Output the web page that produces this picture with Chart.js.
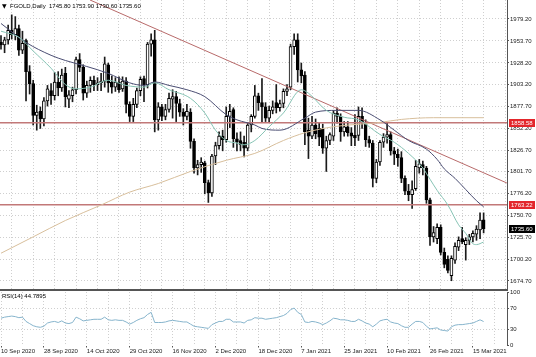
<!DOCTYPE html>
<html>
<head>
<meta charset="utf-8">
<title>FGOLD Daily</title>
<script src="https://cdn.jsdelivr.net/npm/chart.js@4/dist/chart.umd.min.js"></script>
<style>
  html, body { margin:0; padding:0; background:#fff; }
  #wrap { position:relative; width:536px; height:357px; overflow:hidden; background:#fff; }
  canvas { position:absolute; left:0; }
  #main { top:0; }
  #rsi { top:290px; }
</style>
</head>
<body>
<div id="wrap">
  <canvas id="main" width="536" height="291"></canvas>
  <canvas id="rsi" width="536" height="67"></canvas>
</div>
<script>
// ---------------- DATA ----------------
const symbol = 'FGOLD,Daily';
const dateLabels = ['10 Sep 2020','28 Sep 2020','14 Oct 2020','29 Oct 2020','16 Nov 2020','2 Dec 2020',
                    '18 Dec 2020','7 Jan 2021','25 Jan 2021','10 Feb 2021','26 Feb 2021','15 Mar 2021'];
const dateLabelBars = [0,12,24,36,48,60,72,84,96,108,120,132];
const priceTicks = [1979.20,1953.70,1928.20,1903.20,1877.70,1852.20,1826.70,1801.70,1776.20,1750.70,1725.70,1700.20,1674.70];
const rsiTicks = [100,70,30,0];
const rsiLevels = [70,30];

const open = [1952,1949,1955,1966,1961,1968,1943,1954,1918,1904,1867,1872,1863,1884,1896,1890,1906,1899,1916,1886,
  1890,1897,1932,1923,1893,1902,1908,1903,1905,1907,1926,1906,1900,1906,1898,1907,1880,1866,1880,1896,
  1910,1903,1950,1955,1862,1877,1866,1874,1886,1889,1881,1871,1866,1871,1837,1806,1810,1812,1789,1777,
  1820,1832,1843,1839,1866,1874,1840,1838,1836,1829,1856,1866,1890,1882,1877,1864,1873,1882,1876,1881,
  1895,1900,1947,1955,1920,1914,1850,1843,1856,1852,1851,1829,1838,1843,1870,1866,1848,1854,1847,1844,
  1844,1866,1859,1839,1835,1794,1813,1836,1842,1845,1826,1822,1818,1794,1779,1775,1782,1806,1810,1806,
  1769,1726,1724,1737,1708,1700,1681,1699,1714,1724,1717,1722,1726,1729,1734,1745.80];
const high = [1960,1958,1972,1984,1982,1972,1965,1956,1925,1908,1879,1877,1888,1902,1904,1917,1918,1921,1923,1896,
  1900,1935,1939,1926,1907,1912,1913,1911,1916,1935,1928,1913,1911,1912,1912,1911,1883,1887,1899,1912,
  1913,1952,1962,1966,1882,1880,1880,1893,1897,1895,1886,1875,1880,1875,1840,1815,1818,1814,1792,1822,
  1836,1848,1850,1877,1880,1876,1847,1848,1843,1858,1868,1902,1893,1910,1882,1878,1884,1903,1885,1898,
  1903,1950,1962,1962,1928,1918,1864,1866,1863,1858,1857,1843,1847,1873,1876,1869,1860,1860,1853,1868,
  1877,1876,1862,1843,1838,1816,1838,1846,1858,1848,1830,1828,1825,1797,1787,1791,1815,1816,1814,1808,
  1771,1738,1741,1740,1713,1704,1704,1719,1726,1737,1725,1729,1733,1739,1754,1753.90];
const low = [1944,1940,1950,1956,1955,1937,1939,1884,1892,1856,1850,1852,1855,1878,1880,1885,1890,1895,1877,1876,
  1883,1892,1918,1885,1888,1894,1896,1896,1896,1900,1894,1893,1895,1894,1895,1870,1860,1860,1876,1890,
  1883,1899,1936,1848,1850,1861,1862,1871,1864,1860,1866,1856,1862,1829,1800,1798,1801,1776,1766,1773,
  1810,1828,1826,1836,1853,1830,1826,1826,1819,1826,1848,1864,1873,1860,1860,1860,1869,1870,1872,1876,
  1890,1897,1938,1906,1905,1833,1817,1840,1840,1832,1823,1802,1833,1838,1858,1837,1843,1843,1832,1832,
  1838,1852,1831,1830,1784,1789,1809,1830,1835,1821,1810,1808,1789,1775,1768,1759,1780,1800,1798,1765,
  1716,1720,1718,1705,1690,1684,1675,1695,1710,1718,1699,1717,1720,1722,1724,1730.60];
const close = [1949,1955,1966,1961,1968,1943,1951,1918,1904,1867,1871,1863,1884,1898,1890,1906,1899,1914,1889,1891,
  1897,1932,1923,1893,1902,1908,1903,1905,1907,1927,1905,1900,1906,1897,1907,1880,1866,1880,1896,1909,
  1903,1950,1955,1862,1877,1866,1874,1887,1889,1881,1871,1866,1872,1837,1806,1810,1813,1789,1777,1820,
  1832,1843,1839,1866,1872,1840,1836,1833,1829,1856,1866,1890,1882,1877,1864,1873,1877,1876,1881,1895,
  1898,1947,1955,1920,1913,1848,1843,1856,1846,1842,1829,1838,1845,1870,1866,1848,1854,1847,1843,1841,
  1866,1858,1839,1835,1794,1813,1836,1842,1845,1826,1822,1818,1794,1779,1775,1781,1808,1811,1806,1769,
  1726,1731,1737,1708,1694,1687,1701,1715,1722,1720,1722,1726,1730,1735,1745.5,1735.60];

// moving averages at sample bars
const maFastBars = [0,5,9,14,18,21,25,30,35,40,43,47,53,57,60,63,66,68,71,75,79,84,86,91,96,100,106,110,114,118,120,122,125,128,130,132,133,135];
const maFastVals = [1965,1958,1942,1922,1903,1898,1900,1908,1902,1900,1905,1897,1887,1870,1850,1838,1835,1833,1838,1854,1870,1897,1893,1873,1865,1862,1845,1836,1823,1806,1793,1780,1763,1740,1730,1718,1717,1720];
const maMidBars = [0,7,14,18,24,30,36,40,43,47,52,57,63,66,71,73,78,85,88,94,100,106,110,114,119,122,124,127,130,133,135];
const maMidVals = [1974,1952,1937,1931,1924,1916,1905,1902,1906,1902,1897,1889,1868,1862,1856,1852,1850,1864,1871,1873,1873,1862,1850,1838,1828,1816,1805,1794,1781,1768,1761];
const maSlowBars = [0,9,18,28,36,44,53,63,71,79,85,93,106,112,121,135];
const maSlowVals = [1707,1726,1745,1763,1778,1788,1802,1815,1823,1838,1847,1854,1859,1862.5,1864.5,1864.5];

const levels = [1858.58, 1763.22];
const trendBars = [24.9, 141.5];
const trendVals = [2001.3, 1788.6];

const rsi = [51,53,54,55,54,52,53,45,41,37,35,34,36,42,44,45,43,46,42,41,
  43,53,50,46,47,48,49,49,49,53,48,47,48,47,47,44,40,43,47,50,
  52,58,62,43,43,43,44,46,47,46,45,44,44,40,36,35,34,33,32,39,
  42,45,45,49,49,44,44,44,42,47,48,52,51,51,49,50,51,52,54,56,
  60,67,70,62,58,44,43,45,44,42,39,42,46,51,50,48,48,47,45,45,
  49,46,42,40,35,40,46,48,49,44,42,41,37,34,34,40,45,45,43,36,
  31,32,33,29,28,27,35,38,39,39,40,41,42,45,48,44.7895];

// ---------------- LAYOUT ----------------
const X_MIN = -0.28, X_MAX = 141.54;
const Y_MIN = 1664.24, Y_MAX = 2001.28;
const FONT = '"Liberation Sans", Arial, sans-serif';
const gridColor = '#cfcfcf';
const axisColor = '#555';
const gridBars = [];
for (let b = 0; b <= 138; b += 6) gridBars.push(b);

Chart.defaults.font.family = FONT;
Chart.defaults.font.size = 6;
Chart.defaults.color = '#222';

const idx = close.map((_, i) => i);
const wickData = idx.map(i => ({x: i, y: [low[i], high[i]]}));
const bodyData = idx.map(i => ({x: i, y: [open[i], close[i]]}));
const pts = (bars, vals) => bars.map((b, k) => ({x: b, y: vals[k]}));
const last = close.length - 1;

const overlayPlugin = {
  id: 'overlay',
  afterDraw(chart) {
    const ctx = chart.ctx, ys = chart.scales.y, ca = chart.chartArea;
    ctx.save();
    ctx.font = '6px ' + FONT;
    ctx.textBaseline = 'middle';
    ctx.textAlign = 'left';
    const box = (v, bg) => {
      const py = Math.round(ys.getPixelForValue(v));
      ctx.fillStyle = bg;
      ctx.fillRect(ca.right + 2, py - 4, 26, 8);
      ctx.fillStyle = '#fff';
      ctx.fillText(v.toFixed(2), ca.right + 4, py + 0.5);
    };
    levels.forEach(v => box(v, '#e3262b'));
    box(close[last], '#000');
    // header
    ctx.fillStyle = '#000';
    ctx.font = '6px "DejaVu Sans", ' + FONT;
    ctx.fillText('\u25BC', 2, 6);
    ctx.font = '6px ' + FONT;
    ctx.fillText(symbol + '  ' + [open[last], high[last], low[last], close[last]].map(v => v.toFixed(2)).join(' '), 10, 6);
    ctx.restore();
  }
};

new Chart(document.getElementById('main'), {
  type: 'bar',
  data: {
    datasets: [
      {type: 'line', data: pts(maFastBars, maFastVals), borderColor: '#86c3b4', borderWidth: 1, pointRadius: 0, cubicInterpolationMode: 'monotone', order: 0},
      {type: 'line', data: pts(maMidBars, maMidVals), borderColor: '#4a4d72', borderWidth: 1, pointRadius: 0, cubicInterpolationMode: 'monotone', order: 0},
      {type: 'line', data: pts(maSlowBars, maSlowVals), borderColor: '#d8bf9c', borderWidth: 1, pointRadius: 0, cubicInterpolationMode: 'monotone', order: 0},
      {type: 'line', data: pts(trendBars, trendVals), borderColor: '#b86a6a', borderWidth: 1, pointRadius: 0, order: 0},
      {type: 'line', data: [{x: X_MIN - 1, y: levels[0]}, {x: X_MAX + 1, y: levels[0]}], borderColor: '#c27878', borderWidth: 1.5, pointRadius: 0, order: 0},
      {type: 'line', data: [{x: X_MIN - 1, y: levels[1]}, {x: X_MAX + 1, y: levels[1]}], borderColor: '#c27878', borderWidth: 1.5, pointRadius: 0, order: 0},
      {type: 'bar', data: bodyData, grouped: false, barThickness: 3, minBarLength: 1, order: 1,
        backgroundColor: c => close[c.dataIndex] >= open[c.dataIndex] ? '#ffffff' : '#000000',
        borderColor: '#000', borderWidth: 1, borderSkipped: false},
      {type: 'bar', data: wickData, grouped: false, barThickness: 1, order: 2,
        backgroundColor: '#1a1a1a', borderWidth: 0}
    ]
  },
  options: {
    responsive: false, animation: false, devicePixelRatio: 1,
    layout: {padding: 0},
    plugins: {legend: {display: false}, tooltip: {enabled: false}},
    scales: {
      x: {
        type: 'linear', min: X_MIN, max: X_MAX, offset: false,
        afterBuildTicks: s => { s.ticks = gridBars.map(v => ({value: v})); },
        afterFit: s => { s.height = 1; s.paddingLeft = 0; s.paddingRight = 0; },
        ticks: {display: false},
        grid: {color: gridColor, drawTicks: false, lineWidth: 1},
        border: {display: true, color: axisColor, width: 2, dash: [1, 2]}
      },
      y: {
        position: 'right', min: Y_MIN, max: Y_MAX,
        afterBuildTicks: s => { s.ticks = priceTicks.map(v => ({value: v})); },
        afterFit: s => { s.width = 29; s.paddingTop = 0; s.paddingBottom = 0; },
        ticks: {callback: v => Number(v).toFixed(2), padding: 1, color: '#222', font: {size: 6}},
        grid: {color: gridColor, tickColor: axisColor, tickLength: 2, lineWidth: 1},
        border: {display: true, color: axisColor, width: 1, dash: [1, 2]}
      }
    }
  },
  plugins: [overlayPlugin]
});

const rsiLabelPlugin = {
  id: 'rsiLabel',
  afterDraw(chart) {
    const ctx = chart.ctx;
    ctx.save();
    ctx.font = '6px ' + FONT;
    ctx.fillStyle = '#000';
    ctx.textBaseline = 'middle';
    ctx.fillText('RSI(14) ' + rsi[rsi.length - 1].toFixed(4), 2, 6);
    ctx.restore();
  }
};

new Chart(document.getElementById('rsi'), {
  type: 'line',
  data: {
    datasets: [
      {data: idx.map(i => ({x: i, y: rsi[i]})), borderColor: '#86b4cc', borderWidth: 1, pointRadius: 0, tension: 0}
    ]
  },
  options: {
    responsive: false, animation: false, devicePixelRatio: 1,
    layout: {padding: {top: 2, left: 0, right: 0, bottom: 0}},
    plugins: {legend: {display: false}, tooltip: {enabled: false}},
    scales: {
      x: {
        type: 'linear', min: X_MIN, max: X_MAX, offset: false,
        afterBuildTicks: s => { s.ticks = gridBars.map(v => ({value: v})); },
        afterFit: s => { s.height = 11.5; s.paddingLeft = 0; s.paddingRight = 0; },
        ticks: {
          autoSkip: false, maxRotation: 0, align: 'start', padding: 0, color: '#222', font: {size: 6},
          callback: v => { const k = dateLabelBars.indexOf(v); return k >= 0 ? dateLabels[k] : ''; }
        },
        grid: {color: gridColor, tickLength: 2,
               tickColor: c => dateLabelBars.includes(c.tick && c.tick.value) ? axisColor : 'rgba(0,0,0,0)'},
        border: {display: false, dash: [1, 2]}
      },
      y: {
        position: 'right', min: 0, max: 100,
        afterBuildTicks: s => { s.ticks = rsiTicks.map(v => ({value: v})); },
        afterFit: s => { s.width = 29; s.paddingTop = 0; s.paddingBottom = 0; },
        ticks: {padding: 1, color: '#222', font: {size: 6}},
        grid: {color: c => rsiLevels.includes(c.tick && c.tick.value) ? gridColor : 'rgba(0,0,0,0)',
               tickColor: axisColor, tickLength: 2},
        border: {display: true, color: axisColor, width: 1, dash: [1, 2]}
      }
    }
  },
  plugins: [rsiLabelPlugin]
});
</script>
</body>
</html>
